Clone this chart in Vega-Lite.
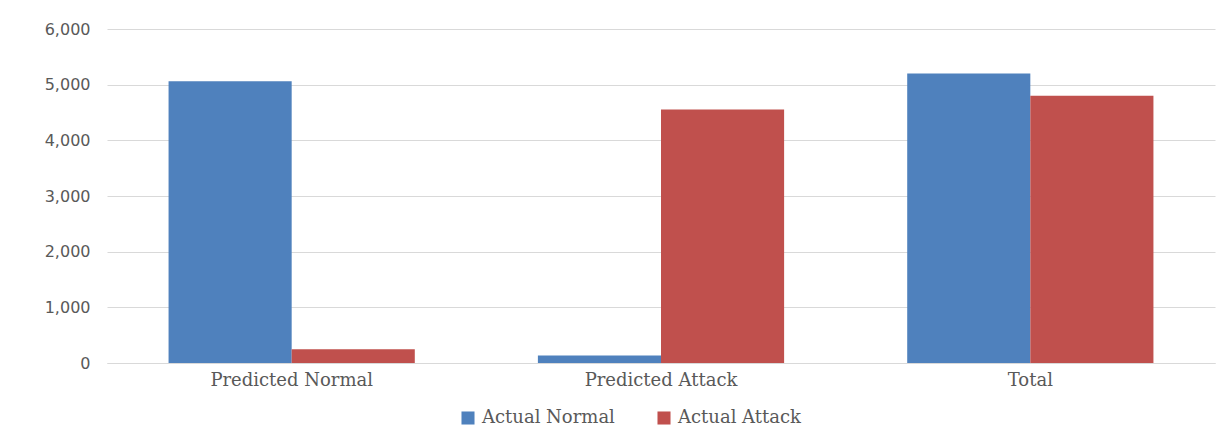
{
  "$schema": "https://vega.github.io/schema/vega-lite/v6.json",
  "width": 1108,
  "height": 334,
  "autosize": {"type": "none"},
  "padding": {"left": 107, "top": 29, "right": 12, "bottom": 73},
  "background": "white",
  "config": {
    "view": {"stroke": null},
    "axis": {"labelColor": "#595959", "titleColor": "#595959"}
  },
  "data": {
    "values": [
      {"category": "Predicted Normal", "series": "Actual Normal", "value": 5060},
      {"category": "Predicted Normal", "series": "Actual Attack", "value": 245},
      {"category": "Predicted Attack", "series": "Actual Normal", "value": 135},
      {"category": "Predicted Attack", "series": "Actual Attack", "value": 4555},
      {"category": "Total", "series": "Actual Normal", "value": 5200},
      {"category": "Total", "series": "Actual Attack", "value": 4800}
    ]
  },
  "mark": {"type": "bar"},
  "encoding": {
    "x": {
      "field": "category",
      "type": "nominal",
      "sort": ["Predicted Normal", "Predicted Attack", "Total"],
      "scale": {"paddingInner": 0.3333, "paddingOuter": 0.1667},
      "axis": {
        "title": null,
        "labelAngle": 0,
        "ticks": false,
        "domainColor": "#d9d9d9",
        "domainWidth": 1,
        "labelFont": "DejaVu Serif",
        "labelFontSize": 18,
        "labelPadding": 8
      }
    },
    "xOffset": {
      "field": "series",
      "type": "nominal",
      "sort": ["Actual Normal", "Actual Attack"]
    },
    "y": {
      "field": "value",
      "type": "quantitative",
      "scale": {"domain": [0, 6000], "nice": false},
      "axis": {
        "title": null,
        "values": [0, 1000, 2000, 3000, 4000, 5000, 6000],
        "format": ",d",
        "domain": false,
        "ticks": false,
        "gridColor": "#d9d9d9",
        "labelFont": "DejaVu Sans",
        "labelFontSize": 16,
        "labelPadding": 17
      }
    },
    "color": {
      "field": "series",
      "type": "nominal",
      "sort": ["Actual Normal", "Actual Attack"],
      "scale": {"domain": ["Actual Normal", "Actual Attack"], "range": ["#4F81BD", "#C0504D"]},
      "legend": {
        "title": null,
        "orient": "none",
        "direction": "horizontal",
        "legendX": 352,
        "legendY": 380,
        "symbolType": "square",
        "symbolSize": 170,
        "symbolStrokeWidth": 0,
        "labelFont": "DejaVu Serif",
        "labelFontSize": 18,
        "labelColor": "#595959",
        "columnPadding": 40,
        "labelOffset": 5
      }
    }
  }
}
